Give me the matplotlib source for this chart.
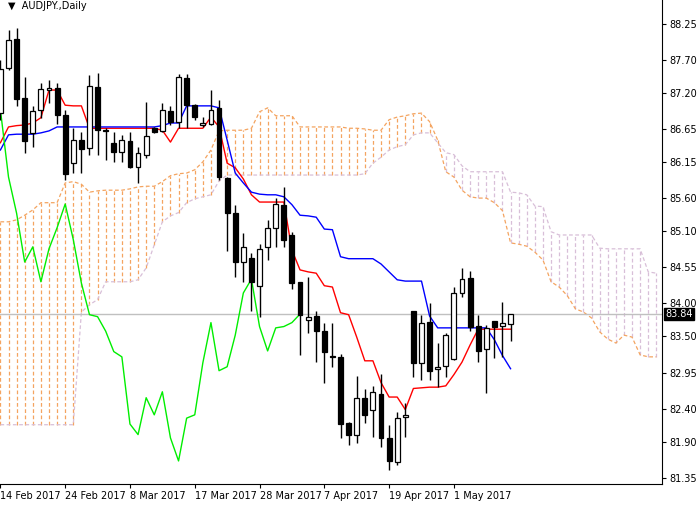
import matplotlib
matplotlib.use("Agg")
import matplotlib.pyplot as plt
import numpy as np

opens = [86.89,87.57,88.02,87.12,86.59,86.94,87.24,87.27,86.86,86.13,86.48,86.36,87.29,86.63,86.44,86.30,
         86.47,86.07,86.26,86.66,86.62,86.92,86.76,87.42,87.01,86.71,86.72,86.97,85.90,85.37,84.63,84.69,
         84.27,84.86,85.15,85.50,85.04,84.33,83.75,83.81,83.58,83.21,83.19,82.19,82.01,82.57,82.39,82.63,
         81.96,81.60,82.28,83.89,83.10,83.72,83.01,83.05,83.16,84.16,84.39,83.66,83.31,83.74,83.66,83.69]
highs = [87.70,88.15,88.18,87.44,87.00,87.35,87.39,87.35,86.94,86.66,86.60,87.47,87.50,86.66,86.60,86.56,
         86.60,86.38,87.06,86.68,87.04,87.00,87.48,87.48,87.03,86.83,87.24,87.09,85.92,85.50,85.07,84.77,
         84.90,85.27,85.60,85.77,85.09,84.33,84.40,83.89,83.70,83.70,83.23,82.20,82.90,82.70,82.75,82.93,
         82.16,82.36,82.49,83.89,83.83,84.01,83.40,83.55,84.25,84.54,84.49,83.83,83.68,83.74,84.02,83.84]
lows = [86.79,87.54,87.00,86.29,86.38,86.82,87.04,86.72,85.88,85.98,85.98,86.26,86.26,86.18,86.15,86.15,
        86.06,85.83,86.21,86.59,86.60,86.71,86.66,86.66,86.79,86.68,86.71,85.88,84.80,84.40,84.33,83.89,
        83.80,84.66,84.86,84.86,84.22,83.22,83.55,83.11,82.80,83.04,81.96,81.85,81.88,82.19,81.98,81.82,
        81.47,81.55,81.98,82.89,82.84,82.84,82.73,82.89,83.14,84.10,83.58,83.11,82.64,83.17,83.19,83.43]
closes = [87.56,88.00,87.10,86.47,86.92,87.26,87.27,86.86,85.97,86.48,86.35,87.30,86.63,86.62,86.30,86.48,
          86.07,86.29,86.54,86.60,86.94,86.76,87.44,87.01,86.83,86.74,86.94,85.92,85.37,84.63,84.86,84.33,
          84.83,85.15,85.51,84.97,84.31,83.83,83.80,83.58,83.27,83.19,82.17,82.01,82.57,82.31,82.66,81.96,
          81.61,82.26,82.31,83.10,83.71,82.98,83.04,83.52,84.16,84.37,83.65,83.28,83.63,83.65,83.71,83.84]

tenkan = [86.44,86.68,86.70,86.71,86.74,86.82,87.24,87.24,87.01,87.00,87.00,86.66,86.66,86.66,86.66,86.66,
          86.66,86.66,86.66,86.66,86.63,86.45,86.66,86.66,86.66,86.66,86.83,86.68,86.13,86.06,85.89,85.65,
          85.54,85.54,85.54,85.54,84.81,84.51,84.48,84.46,84.27,84.25,83.86,83.83,83.49,83.13,83.13,82.80,
          82.58,82.58,82.39,82.71,82.72,82.73,82.73,82.75,82.92,83.11,83.37,83.61,83.61,83.61,83.61,83.61]
kijun = [86.33,86.56,86.57,86.57,86.57,86.59,86.62,86.68,86.68,86.68,86.68,86.68,86.68,86.68,86.68,86.68,
         86.68,86.68,86.68,86.68,86.70,86.74,86.74,87.00,87.00,87.00,87.00,86.97,86.48,85.98,85.83,85.69,
         85.66,85.65,85.65,85.62,85.50,85.34,85.33,85.31,85.13,85.12,84.71,84.68,84.68,84.68,84.68,84.60,
         84.48,84.36,84.34,84.34,84.34,83.81,83.63,83.63,83.63,83.63,83.63,83.63,83.63,83.45,83.21,83.01]

span_a = [85.24,85.24,85.27,85.34,85.42,85.53,85.53,85.53,85.83,85.85,85.81,85.69,85.71,85.72,85.72,85.72,
          85.74,85.77,85.78,85.78,85.85,85.94,85.97,85.98,86.03,86.15,86.33,86.62,86.63,86.63,86.63,86.66,
          86.91,86.97,86.85,86.85,86.85,86.68,86.68,86.68,86.68,86.68,86.68,86.66,86.66,86.65,86.63,86.63,
          86.79,86.83,86.85,86.88,86.89,86.76,86.48,86.00,85.92,85.72,85.62,85.60,85.60,85.53,85.41,84.92,
          84.90,84.87,84.78,84.66,84.33,84.25,84.12,83.92,83.87,83.78,83.57,83.46,83.40,83.52,83.49,83.22,
          83.19,83.19]
span_b = [82.16,82.16,82.16,82.16,82.16,82.16,82.16,82.16,82.16,82.16,83.87,83.98,84.06,84.33,84.33,84.33,
          84.33,84.36,84.54,84.89,85.24,85.33,85.38,85.53,85.59,85.62,85.65,85.86,85.95,85.95,85.95,85.95,
          85.95,85.95,85.95,85.95,85.95,85.95,85.95,85.95,85.95,85.95,85.95,85.95,85.95,85.97,86.13,86.22,
          86.33,86.38,86.41,86.56,86.59,86.59,86.44,86.29,86.26,86.09,86.00,86.00,86.00,86.00,86.00,85.69,
          85.68,85.65,85.48,85.47,85.09,85.04,85.04,85.04,85.04,85.04,84.84,84.83,84.83,84.83,84.83,84.83,
          84.48,84.46]

date_labels = ["14 Feb 2017", "24 Feb 2017", "8 Mar 2017", "17 Mar 2017",
               "28 Mar 2017", "7 Apr 2017", "19 Apr 2017", "1 May 2017"]
date_idx = [0, 8, 16, 24, 32, 40, 48, 56]
price_ticks = [88.25, 87.70, 87.20, 86.65, 86.15, 85.60, 85.10, 84.55, 84.00,
               83.50, 82.95, 82.40, 81.90, 81.35]
last_price = 83.84

fig = plt.figure(figsize=(7, 5.05), dpi=100)
ax = fig.add_axes([0, 21/505, 662/700, 484/505])

ORANGE = "#f4a460"
PLUM = "#d8bfd8"
n = len(span_a)
xc = np.arange(n)
a = np.array(span_a); b = np.array(span_b)
for i in range(n):
    col = ORANGE if a[i] >= b[i] else PLUM
    ax.vlines(i, min(a[i], b[i]), max(a[i], b[i]), colors=col, linestyles=(0, (3, 2)), lw=0.9, zorder=1)
ax.plot(xc, a, color=ORANGE, ls=(0, (3, 2)), lw=0.9, zorder=1)
ax.plot(xc, b, color=PLUM, ls=(0, (3, 2)), lw=0.9, zorder=1)

ax.axhline(last_price, color="#c0c0c0", lw=1, zorder=1.5)

m = len(closes)
xs = np.arange(m)
ax.plot(xs, tenkan, color="#ff0000", lw=1, zorder=2)
ax.plot(xs, kijun, color="#0000ff", lw=1, zorder=2)
ax.plot(xs[:m-26], closes[26:], color="#00ee00", lw=1, zorder=2)

w = 0.6
for i in range(m):
    o, h, l, c = opens[i], highs[i], lows[i], closes[i]
    ax.vlines(i, l, h, color="black", lw=1, zorder=3)
    lo, hi = min(o, c), max(o, c)
    if hi - lo < 0.015:
        hi = lo + 0.015
    fc = "white" if c >= o else "black"
    ax.add_patch(plt.Rectangle((i - w/2, lo), w, hi - lo, facecolor=fc, edgecolor="black", lw=0.9, zorder=4))

ax.set_xlim(-0.05, 81.7)
ax.set_ylim(81.26, 88.607)
ax.yaxis.tick_right()
ax.set_yticks(price_ticks)
ax.set_yticklabels([f"{p:.2f}" for p in price_ticks], fontsize=7, family="DejaVu Sans")
ax.set_xticks(date_idx)
ax.set_xticklabels(date_labels, fontsize=7, ha="left")
ax.tick_params(axis="both", length=3, width=0.8, pad=2)
for s in ["left", "top"]:
    ax.spines[s].set_visible(False)
for s in ["right", "bottom"]:
    ax.spines[s].set_color("black")
    ax.spines[s].set_linewidth(0.8)

ax.text(1.0 + 3/662, last_price, f"{last_price:.2f}", transform=ax.get_yaxis_transform(),
        fontsize=7, color="white", va="center", ha="left",
        bbox=dict(boxstyle="square,pad=0.15", fc="black", ec="black"), zorder=10, clip_on=False)
ax.text(0.012, 0.997, "\u25bc  AUDJPY.,Daily", transform=ax.transAxes, fontsize=7, va="top", ha="left")

fig.savefig("out.png", dpi=100)
